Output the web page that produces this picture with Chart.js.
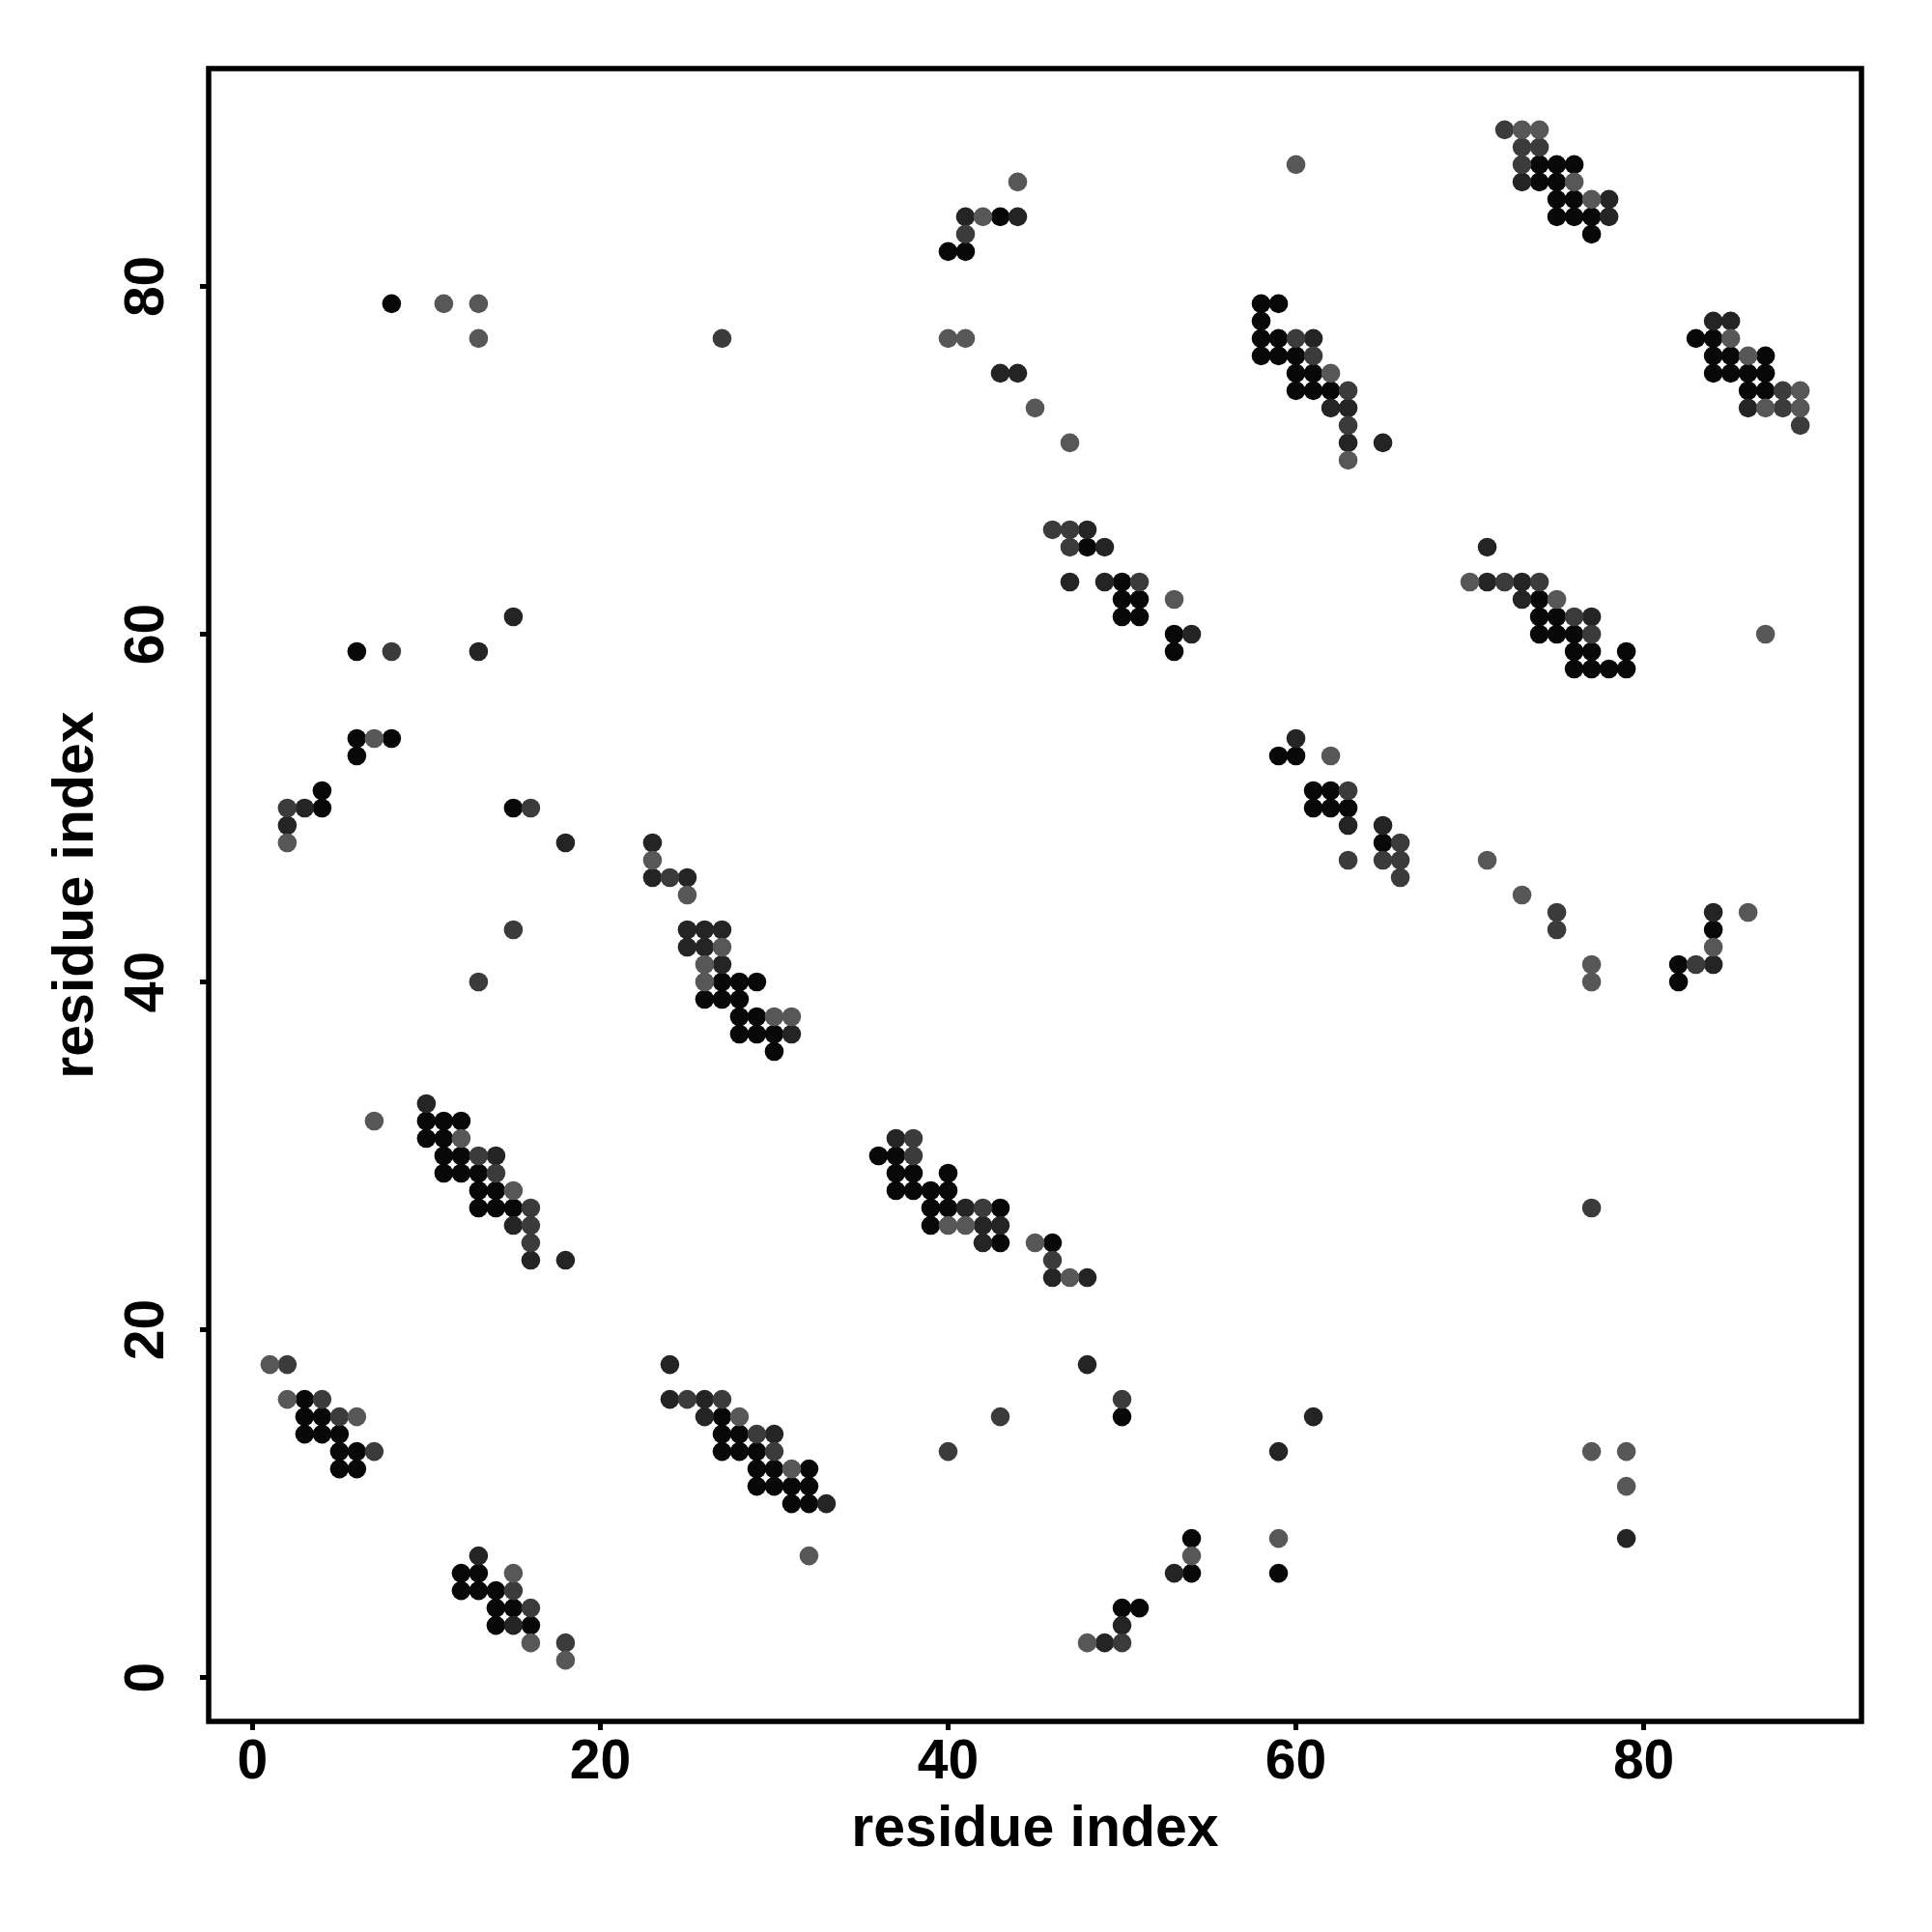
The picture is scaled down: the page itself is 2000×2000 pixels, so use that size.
<!DOCTYPE html>
<html>
<head>
<meta charset="utf-8">
<script src="https://cdn.jsdelivr.net/npm/chart.js@4.4.1/dist/chart.umd.min.js"></script>
<style>
  html, body { margin: 0; padding: 0; background: #fff; }
</style>
</head>
<body>
<canvas id="chart" width="2000" height="2000"></canvas>
<script>
// contact map: [residue i, residue j] pairs, grouped by shade of the dot
const blackPts = [
  [3,16],[3,15],[4,15],[3,14],[4,14],[5,14],[5,13],[6,13],[5,12],[6,12],
  [12,6],[13,6],[12,5],[13,5],[14,5],[14,4],[15,4],[14,3],[16,3],
  [27,15],[27,14],[28,14],[27,13],[28,13],[29,13],[29,12],[30,12],[32,12],[29,11],[30,11],[31,11],[32,11],[31,10],[32,10],
  [50,15],[54,8],[54,6],[59,6],[50,4],[51,4],
  [10,32],[11,32],[12,32],[10,31],[11,31],[11,30],[12,30],[11,29],[12,29],[13,29],[13,28],[14,28],[13,27],[14,27],[15,27],
  [27,40],[28,40],[29,40],[26,39],[27,39],[28,39],[28,38],[29,38],[28,37],[29,37],[30,37],[30,36],
  [36,30],[37,30],[37,29],[38,29],[40,29],[37,28],[38,28],[39,28],[40,28],[39,27],[40,27],[43,27],[39,26],[43,25],
  [46,25],[82,41],[82,40],[84,43],
  [8,79],[6,59],[6,54],[8,54],[6,53],[4,51],[4,50],[15,50],
  [43,84],[40,82],[41,82],
  [58,79],[59,79],[58,78],[58,77],[59,77],[58,76],[59,76],[60,76],[60,75],[61,75],[60,74],[61,74],[62,74],
  [48,65],[50,63],[50,62],[51,62],[50,61],[51,61],[53,60],[53,59],
  [59,53],[60,53],[61,51],[62,51],[61,50],[62,50],[63,50],[65,48],
  [74,87],[75,87],[76,87],[74,86],[75,86],[75,85],[76,85],[75,84],[76,84],[77,84],[77,83],
  [83,77],[84,77],[84,76],[85,76],[87,76],[84,75],[85,75],[86,75],[87,75],[86,74],[87,74],
  [74,62],[74,61],[75,61],[74,60],[75,60],[76,60],[76,59],[77,59],[79,59],[76,58],[77,58],[78,58],[79,58]
];

const darkPts = [
  [13,7],[15,3],
  [24,18],[24,16],[26,16],[26,15],[30,14],[33,10],
  [48,18],[61,15],[59,13],[53,6],[50,3],[49,2],[79,8],
  [10,33],[14,30],[15,26],[16,24],[18,24],
  [23,46],[25,46],[25,43],[26,43],[27,43],[25,42],[26,42],[27,41],[31,37],
  [37,31],[41,27],[42,26],[43,26],[42,25],[46,23],[48,23],
  [84,44],[84,41],
  [15,61],[13,59],[3,50],[2,49],[18,48],[23,48],
  [41,84],[44,84],[43,75],[44,75],
  [61,77],[62,73],[63,73],[63,71],[65,71],[48,66],[49,65],[47,63],[49,63],[54,60],
  [60,54],[63,49],[65,49],
  [73,86],[78,85],[78,84],[84,78],[85,78],[86,73],
  [71,65],[71,63],[73,63],[73,62],[77,61]
];

const midPts = [
  [2,18],[4,16],[5,15],[7,13],[15,5],[16,4],[18,2],
  [25,16],[27,16],[29,14],[30,13],[40,13],[43,15],[50,16],[50,2],
  [15,43],[13,40],[13,30],[14,29],[16,27],[16,26],[16,25],
  [24,46],[38,31],[38,30],[42,27],
  [63,47],[65,47],[66,47],[66,46],[46,24],
  [75,44],[75,43],[77,27],[83,41],
  [8,59],[2,50],[16,50],[41,83],[27,77],
  [60,77],[61,76],[63,74],[63,72],[46,66],[47,66],[47,65],[51,63],[63,51],[66,48],
  [72,89],[73,88],[74,88],[73,87],[88,74],[88,73],[89,72],
  [72,63],[74,63],[76,61],[77,60]
];

const greyPts = [
  [1,18],[2,16],[6,15],[15,6],[16,2],[18,1],
  [28,15],[31,12],[32,7],[54,7],[59,8],[48,2],
  [77,13],[79,13],[79,11],
  [7,32],[12,31],[15,28],
  [23,47],[25,45],[27,42],[26,41],[26,40],[30,38],[31,38],[40,26],[41,26],[45,25],[47,23],
  [71,47],[73,45],[77,41],[77,40],[84,42],[86,44],
  [11,79],[13,79],[13,77],[7,54],[2,48],
  [44,86],[42,84],[40,77],[41,77],[45,73],[47,71],
  [60,87],[62,75],[63,70],[53,62],[62,53],
  [73,89],[74,89],[76,86],[77,85],[85,77],[86,76],[89,74],[87,73],[89,73],
  [70,63],[75,62],[87,60]
];

const xTicks = [0, 20, 40, 60, 80];
const yTicks = [0, 20, 40, 60, 80];
const axisLabel = 'residue index';

const shades = [
  { pts: greyPts,  color: '#575757' },
  { pts: midPts,   color: '#3b3b3b' },
  { pts: darkPts,  color: '#242424' },
  { pts: blackPts, color: '#080808' }
];

const tickFont = { family: "'Liberation Sans', Arial, sans-serif", size: 57, weight: 'bold' };
const titleFont = { family: "'Liberation Sans', Arial, sans-serif", size: 59, weight: 'bold' };

// ggplot-like panel border drawn over the data
const panelBorder = {
  id: 'panelBorder',
  afterDatasetsDraw(chart) {
    const { ctx, chartArea: a } = chart;
    ctx.save();
    ctx.strokeStyle = '#000';
    ctx.lineWidth = 5.5;
    ctx.strokeRect(a.left, a.top, a.right - a.left, a.bottom - a.top);
    ctx.restore();
  }
};

const tickGrid = {
  display: true,
  drawOnChartArea: false,
  drawTicks: true,
  tickLength: 9,
  tickWidth: 5,
  color: '#000'
};

new Chart(document.getElementById('chart'), {
  type: 'scatter',
  data: {
    datasets: shades.map((s) => ({
      data: s.pts.map((p) => ({ x: p[0], y: p[1] })),
      backgroundColor: s.color,
      borderWidth: 0,
      pointRadius: 9.8,
      pointHoverRadius: 9.8
    }))
  },
  options: {
    responsive: false,
    animation: false,
    devicePixelRatio: 1,
    layout: { padding: { left: 0, top: 71, right: 73, bottom: 0 } },
    plugins: { legend: { display: false }, tooltip: { enabled: false } },
    scales: {
      x: {
        type: 'linear',
        min: -2.52,
        max: 92.52,
        afterBuildTicks: (scale) => { scale.ticks = xTicks.map((v) => ({ value: v })); },
        afterFit: (scale) => { scale.height = 218; },
        ticks: { font: tickFont, color: '#000', padding: 0, autoSkip: false, minRotation: 0, maxRotation: 0 },
        grid: tickGrid,
        border: { display: false },
        title: { display: true, text: axisLabel, font: titleFont, color: '#000', padding: { top: 0, bottom: 70 } }
      },
      y: {
        type: 'linear',
        min: -2.52,
        max: 92.52,
        afterBuildTicks: (scale) => { scale.ticks = yTicks.map((v) => ({ value: v })); },
        afterFit: (scale) => { scale.width = 216; },
        ticks: { font: tickFont, color: '#000', padding: 22, autoSkip: false, minRotation: 90, maxRotation: 90, crossAlign: 'center' },
        grid: tickGrid,
        border: { display: false },
        title: { display: true, text: axisLabel, font: titleFont, color: '#000', padding: { top: 44, bottom: 0 } }
      }
    }
  },
  plugins: [panelBorder]
});
</script>
</body>
</html>
